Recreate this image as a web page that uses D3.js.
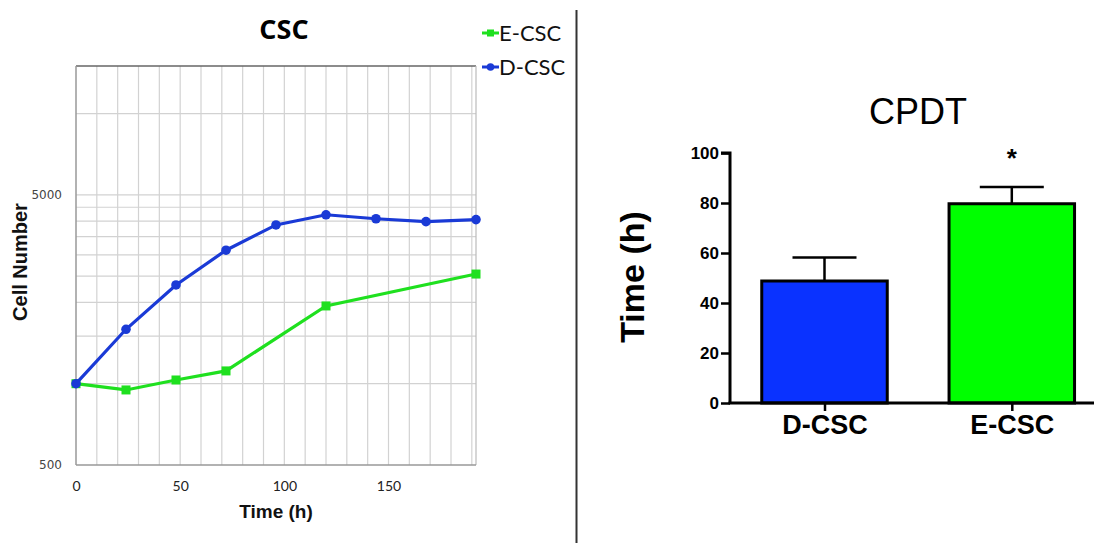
<!DOCTYPE html>
<html><head><meta charset="utf-8">
<script src="https://cdn.jsdelivr.net/npm/d3@7"></script>
<style>body{margin:0;background:#fff}svg{display:block}</style>
</head><body>
<svg id="c" width="1094" height="543"></svg>
<script>
// ---- Growth curve data (left panel) ----
const timesD = [0, 24, 48, 72, 96, 120, 144, 168, 192];
const cellsD = [1000, 1590, 2320, 3120, 3870, 4220, 4080, 3980, 4050];
const timesE = [0, 24, 48, 72, 120, 192];
const cellsE = [1000, 948, 1032, 1115, 1940, 2546];
const xTicksLeft = [0, 50, 100, 150];
const yTickLabelsLeft = [500, 5000];
const yGridLeft = [1000, 1500, 2000, 2500, 3000, 3500, 4000, 4500, 5000, 10000];
const seriesNames = ["E-CSC", "D-CSC"];

// ---- CPDT data (right panel) ----
const barCats = ["D-CSC", "E-CSC"];
const barVals = [48.8, 79.7];
const barErr = [9.4, 6.7];
const barYTicks = [0, 20, 40, 60, 80, 100];

const svg = d3.select("#c");
const GREEN = "#1fe01f", BLUE = "#1a3ad6";

// ===== Left panel =====
const L = {l: 76, r: 476, t: 66, b: 465};
const x = d3.scaleLinear().domain([0, 192]).range([L.l, L.r]);
const y = d3.scaleLog().domain([500, 15000]).range([L.b, L.t]);
const gL = svg.append("g");

// vertical grid every 10 h
gL.append("g").selectAll("line").data(d3.range(10, 192, 10)).join("line")
  .attr("x1", d => x(d)).attr("x2", d => x(d)).attr("y1", L.t).attr("y2", L.b)
  .attr("stroke", "#d2d2d2").attr("stroke-width", 1.2);
gL.append("g").selectAll("line").data(yGridLeft).join("line")
  .attr("x1", L.l).attr("x2", L.r).attr("y1", d => y(d)).attr("y2", d => y(d))
  .attr("stroke", "#d2d2d2").attr("stroke-width", 1.2);
// border
gL.append("line").attr("x1", L.l).attr("x2", L.r).attr("y1", L.t).attr("y2", L.t).attr("stroke", "#666").attr("stroke-width", 1.5);
gL.append("line").attr("x1", L.r).attr("x2", L.r).attr("y1", L.t).attr("y2", L.b).attr("stroke", "#bbb").attr("stroke-width", 1.2);
gL.append("line").attr("x1", L.l).attr("x2", L.l).attr("y1", L.t).attr("y2", L.b).attr("stroke", "#999").attr("stroke-width", 1.5);
gL.append("line").attr("x1", L.l).attr("x2", L.r).attr("y1", L.b).attr("y2", L.b).attr("stroke", "#999").attr("stroke-width", 1.5);

// axes labels
const xAxisL = d3.axisBottom(x).tickValues(xTicksLeft).tickSize(0).tickPadding(16);
gL.append("g").attr("transform", `translate(0,${L.b})`).call(xAxisL)
  .call(g => g.select(".domain").remove())
  .selectAll("text").attr("font-family", "Lato, 'Open Sans', sans-serif").attr("font-size", 14).attr("fill", "#222");
const yAxisL = d3.axisLeft(y).tickValues(yTickLabelsLeft).tickFormat(d3.format("d")).tickSize(0).tickPadding(14);
gL.append("g").attr("transform", `translate(${L.l},0)`).call(yAxisL)
  .call(g => g.select(".domain").remove())
  .selectAll("text").attr("font-family", "'DejaVu Sans', Verdana, sans-serif").attr("font-size", 12).attr("fill", "#444");

// lines
const lineGen = d3.line().x(d => x(d[0])).y(d => y(d[1]));
const dataE = timesE.map((t, i) => [t, cellsE[i]]);
const dataD = timesD.map((t, i) => [t, cellsD[i]]);
gL.append("path").datum(dataE).attr("d", lineGen).attr("fill", "none").attr("stroke", GREEN).attr("stroke-width", 3.2);
gL.append("g").selectAll("rect").data(dataE).join("rect")
  .attr("x", d => x(d[0]) - 4.5).attr("y", d => y(d[1]) - 4.5).attr("width", 9).attr("height", 9).attr("fill", GREEN);
gL.append("path").datum(dataD).attr("d", lineGen).attr("fill", "none").attr("stroke", BLUE).attr("stroke-width", 3.2);
gL.append("g").selectAll("circle").data(dataD).join("circle")
  .attr("cx", d => x(d[0])).attr("cy", d => y(d[1])).attr("r", 4.8).attr("fill", BLUE);

// titles
svg.append("text").attr("x", 284).attr("y", 39).attr("text-anchor", "middle")
  .attr("font-family", "'Open Sans', Lato, sans-serif").attr("font-weight", "bold").attr("font-size", 27).attr("fill", "#000").text("CSC");
svg.append("text").attr("x", 276).attr("y", 518).attr("text-anchor", "middle")
  .attr("font-family", "'Liberation Sans', Arial, sans-serif").attr("font-weight", "bold").attr("font-size", 19).attr("fill", "#111").text("Time (h)");
svg.append("text").attr("transform", "translate(27,262) rotate(-90)").attr("text-anchor", "middle")
  .attr("font-family", "'Liberation Sans', Arial, sans-serif").attr("font-weight", "bold").attr("font-size", 20).attr("fill", "#111").text("Cell Number");

// legend
const legY = [33, 67];
const legColors = [GREEN, BLUE];
seriesNames.forEach((name, i) => {
  const g = svg.append("g");
  g.append("line").attr("x1", 482).attr("x2", 499).attr("y1", legY[i]).attr("y2", legY[i]).attr("stroke", legColors[i]).attr("stroke-width", 3);
  if (i === 0) g.append("rect").attr("x", 487).attr("y", legY[i] - 3.5).attr("width", 7).attr("height", 7).attr("fill", GREEN);
  else g.append("circle").attr("cx", 490.5).attr("cy", legY[i]).attr("r", 3.8).attr("fill", BLUE);
  g.append("text").attr("x", 499).attr("y", legY[i] + 8).attr("font-family", "Lato, 'Open Sans', sans-serif")
    .attr("font-size", 22).attr("fill", "#111").text(name);
});

// divider
svg.append("line").attr("x1", 576.5).attr("x2", 576.5).attr("y1", 10).attr("y2", 543).attr("stroke", "#333").attr("stroke-width", 2);

// ===== Right panel =====
const R = {l: 730, r: 1094, t: 153, b: 403};
const yb = d3.scaleLinear().domain([0, 100]).range([R.b, R.t]);
const gR = svg.append("g");
const barColors = ["#0a32ff", "#00ff00"];
const bw = 125.5;
const band = d3.scalePoint().domain(barCats).range([824.5, 1011.8]);
// error bars
barCats.forEach((c, i) => {
  const cx = band(c);
  gR.append("line").attr("x1", cx).attr("x2", cx).attr("y1", yb(barVals[i])).attr("y2", yb(barVals[i] + barErr[i])).attr("stroke", "#000").attr("stroke-width", 2.5);
  gR.append("line").attr("x1", cx - 32).attr("x2", cx + 32).attr("y1", yb(barVals[i] + barErr[i])).attr("y2", yb(barVals[i] + barErr[i])).attr("stroke", "#000").attr("stroke-width", 2.5);
});
gR.append("g").selectAll("rect").data(barCats).join("rect")
  .attr("x", d => band(d) - bw / 2).attr("width", bw)
  .attr("y", (d, i) => yb(barVals[i])).attr("height", (d, i) => yb(0) - yb(barVals[i]))
  .attr("fill", (d, i) => barColors[i]).attr("stroke", "#000").attr("stroke-width", 3);

// y axis
const yAxisR = d3.axisLeft(yb).tickValues(barYTicks).tickSize(9).tickPadding(2);
gR.append("g").attr("transform", `translate(${R.l},0)`).call(yAxisR)
  .call(g => g.select(".domain").attr("stroke-width", 3).attr("d", `M-9,${R.t}H0V${R.b}`))
  .call(g => g.selectAll(".tick line").attr("stroke-width", 2.5))
  .selectAll("text").attr("font-family", "'Liberation Sans', Arial, sans-serif").attr("font-weight", "bold").attr("font-size", 17).attr("fill", "#000");
// x axis
gR.append("line").attr("x1", R.l - 1.5).attr("x2", R.r).attr("y1", R.b).attr("y2", R.b).attr("stroke", "#000").attr("stroke-width", 3);
const xAxisR = d3.axisBottom(band).tickSize(8).tickPadding(4);
gR.append("g").attr("transform", `translate(0,${R.b})`).call(xAxisR)
  .call(g => g.select(".domain").remove())
  .call(g => g.selectAll(".tick line").attr("stroke-width", 2.5))
  .selectAll("text").attr("font-family", "'Liberation Sans', Arial, sans-serif").attr("font-weight", "bold").attr("font-size", 27).attr("fill", "#000");

// asterisk
gR.append("text").attr("x", band("E-CSC")).attr("y", 167).attr("text-anchor", "middle")
  .attr("font-family", "'Liberation Sans', Arial, sans-serif").attr("font-weight", "bold").attr("font-size", 26).text("*");
// title & y label
svg.append("text").attr("x", 918).attr("y", 124).attr("text-anchor", "middle")
  .attr("font-family", "'Liberation Sans', Arial, sans-serif").attr("font-size", 36).attr("fill", "#000").text("CPDT");
svg.append("text").attr("transform", "translate(644,277) rotate(-90)").attr("text-anchor", "middle")
  .attr("font-family", "'Liberation Sans', Arial, sans-serif").attr("font-weight", "bold").attr("font-size", 34).attr("fill", "#000").text("Time (h)");
</script>
</body></html>
